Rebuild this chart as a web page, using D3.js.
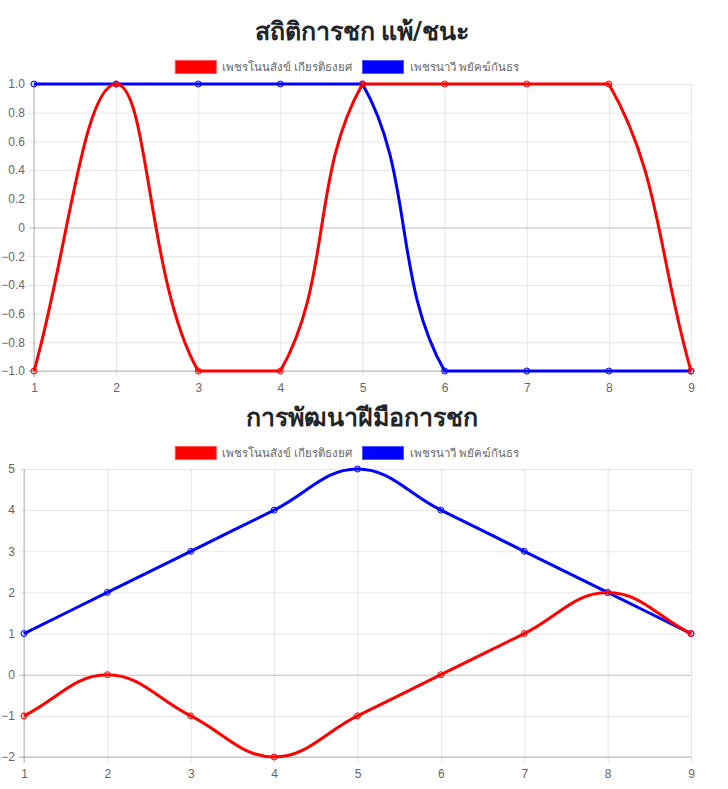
<!DOCTYPE html>
<html>
<head>
<meta charset="utf-8">
<script src="https://cdn.jsdelivr.net/npm/d3@7"></script>
<style>
  body { margin: 0; background: #fff; }
  .title { font-family: Roboto, "Helvetica Neue", Arial, "Noto Sans", sans-serif; font-weight: bold; fill: #212529; }
  .tick text, .legendText { font-family: "Helvetica Neue", Helvetica, Arial, "Liberation Sans", sans-serif; fill: #666; font-size: 12px; }
  .legendText { font-size: 11.5px; }
</style>
</head>
<body>
<div id="charts"></div>
<script>
// x labels shared by both charts
let rounds = [1, 2, 3, 4, 5, 6, 7, 8, 9];
let names = ["เพชรโนนสังข์ เกียรติธงยศ", "เพชรนาวี พยัคฆ์กันธร"];
let colors = ["#ff0000", "#0000ff"];

// chart 1: win / lose
let winLoseRed = [-1, 1, -1, -1, 1, 1, 1, 1, -1];
let winLoseBlue = [1, 1, 1, 1, 1, -1, -1, -1, -1];
let winLoseTicks = [-1, -0.8, -0.6, -0.4, -0.2, 0, 0.2, 0.4, 0.6, 0.8, 1];

// chart 2: skill development
let skillRed = [-1, 0, -1, -2, -1, 0, 1, 2, 1];
let skillBlue = [1, 2, 3, 4, 5, 4, 3, 2, 1];
let skillTicks = [-2, -1, 0, 1, 2, 3, 4, 5];

let width = 728;
let height = 789;

let svg = d3.select("#charts")
  .append("svg")
  .attr("width", width)
  .attr("height", height);

// Chart.js style spline (tension 0.4, control points capped to the plot area)
function splineCurve(tension, area) {
  return function(context) {
    let pts;
    function cap(v, lo, hi) { return Math.max(lo, Math.min(hi, v)); }
    return {
      areaStart() {},
      areaEnd() {},
      lineStart() { pts = []; },
      point(x, y) { pts.push({ x: +x, y: +y }); },
      lineEnd() {
        let n = pts.length;
        pts.forEach(function(p, i) {
          let prev = pts[i - 1] || p;
          let next = pts[i + 1] || p;
          let d01 = Math.hypot(p.x - prev.x, p.y - prev.y);
          let d12 = Math.hypot(next.x - p.x, next.y - p.y);
          let s01 = d01 / (d01 + d12), s12 = d12 / (d01 + d12);
          if (isNaN(s01)) s01 = 0;
          if (isNaN(s12)) s12 = 0;
          let fa = tension * s01, fb = tension * s12;
          p.cpx0 = cap(p.x - fa * (next.x - prev.x), area.left, area.right);
          p.cpy0 = cap(p.y - fa * (next.y - prev.y), area.top, area.bottom);
          p.cpx1 = cap(p.x + fb * (next.x - prev.x), area.left, area.right);
          p.cpy1 = cap(p.y + fb * (next.y - prev.y), area.top, area.bottom);
        });
        for (let i = 0; i < n; i++) {
          if (i === 0) context.moveTo(pts[0].x, pts[0].y);
          else context.bezierCurveTo(pts[i - 1].cpx1, pts[i - 1].cpy1, pts[i].cpx0, pts[i].cpy0, pts[i].x, pts[i].y);
        }
      }
    };
  };
}

function drawChart(opt) {
  let g = svg.append("g");

  // title
  g.append("text")
    .attr("class", "title")
    .attr("x", 362)
    .attr("y", opt.titleY)
    .attr("text-anchor", "middle")
    .attr("font-size", 25)
    .text(opt.title);

  // legend
  let legend = g.append("g").attr("transform", "translate(0," + opt.legendY + ")");
  let items = legend.selectAll("g.item")
    .data(names)
    .enter()
    .append("g")
    .attr("class", "item");
  items.append("rect")
    .attr("width", 41)
    .attr("height", 13)
    .attr("y", -6.5)
    .attr("fill", function(d, i) { return colors[i]; })
    .attr("stroke", function(d, i) { return i === 0 ? "rgba(255,80,80,0.9)" : "rgba(80,80,255,0.9)"; })
    .attr("stroke-width", 1);
  items.append("text")
    .attr("class", "legendText")
    .attr("x", 47)
    .attr("dy", "0.35em")
    .text(function(d) { return d; });
  let offsets = [];
  let total = 0;
  items.each(function() {
    let w = 47 + d3.select(this).select("text").node().getComputedTextLength() + 10;
    offsets.push(total);
    total += w;
  });
  let startX = opt.legendCenter - (total - 10) / 2;
  items.attr("transform", function(d, i) { return "translate(" + (startX + offsets[i]) + ",0)"; });

  let area = opt.area;
  let x = d3.scaleLinear().domain([1, 9]).range([area.left, area.right]);
  let y = d3.scaleLinear().domain(d3.extent(opt.ticks)).range([area.bottom, area.top]);

  // y axis with gridlines
  let yAxis = d3.axisLeft(y)
    .tickValues(opt.ticks)
    .tickSize(-(area.right - area.left))
    .tickPadding(9)
    .tickFormat(opt.format);
  let yg = g.append("g")
    .attr("transform", "translate(" + area.left + ",0)")
    .call(yAxis);
  yg.select(".domain").remove();
  yg.selectAll(".tick line")
    .attr("x1", -5)
    .attr("stroke", function(d) { return d === 0 ? "rgba(0,0,0,0.25)" : "rgba(0,0,0,0.1)"; });
  yg.selectAll(".tick text").attr("x", -9);

  // x axis with gridlines
  let xAxis = d3.axisBottom(x)
    .tickValues(rounds)
    .tickSize(-(area.bottom - area.top))
    .tickPadding(12)
    .tickFormat(d3.format("d"));
  let xg = g.append("g")
    .attr("transform", "translate(0," + area.bottom + ")")
    .call(xAxis);
  xg.select(".domain").remove();
  xg.selectAll(".tick line")
    .attr("y1", 6)
    .attr("stroke", "rgba(0,0,0,0.1)");
  xg.selectAll(".tick text").attr("y", 12);

  // axis borders
  g.append("line")
    .attr("x1", area.left).attr("x2", area.left)
    .attr("y1", area.top).attr("y2", area.bottom + 6)
    .attr("stroke", "rgba(0,0,0,0.25)");
  g.append("line")
    .attr("x1", area.left - 5).attr("x2", area.right)
    .attr("y1", area.bottom).attr("y2", area.bottom)
    .attr("stroke", "rgba(0,0,0,0.25)");

  let line = d3.line()
    .x(function(d, i) { return x(rounds[i]); })
    .y(function(d) { return y(d); })
    .curve(splineCurve(0.4, area));

  // draw the last dataset first so the first one sits on top
  let series = [opt.red, opt.blue];
  for (let s = series.length - 1; s >= 0; s--) {
    g.append("path")
      .datum(series[s])
      .attr("fill", "none")
      .attr("stroke", colors[s])
      .attr("stroke-width", 3)
      .attr("d", line);
    g.selectAll(".pt" + s)
      .data(series[s])
      .enter()
      .append("circle")
      .attr("class", "pt" + s)
      .attr("cx", function(d, i) { return x(rounds[i]); })
      .attr("cy", function(d) { return y(d); })
      .attr("r", 3)
      .attr("fill", s === 0 ? "rgba(255,0,0,0.15)" : "rgba(0,0,255,0.15)")
      .attr("stroke", colors[s])
      .attr("stroke-width", 1);
  }
}

drawChart({
  title: "สถิติการชก แพ้/ชนะ",
  titleY: 40,
  legendY: 67,
  legendCenter: 347,
  area: { left: 34, right: 691, top: 84, bottom: 371 },
  ticks: winLoseTicks,
  format: function(d) { return d === 0 ? "0" : d3.format(".1f")(d); },
  red: winLoseRed,
  blue: winLoseBlue
});

drawChart({
  title: "การพัฒนาฝีมือการชก",
  titleY: 426,
  legendY: 453,
  legendCenter: 347,
  area: { left: 24, right: 691, top: 469, bottom: 757 },
  ticks: skillTicks,
  format: d3.format("d"),
  red: skillRed,
  blue: skillBlue
});
</script>
</body>
</html>
